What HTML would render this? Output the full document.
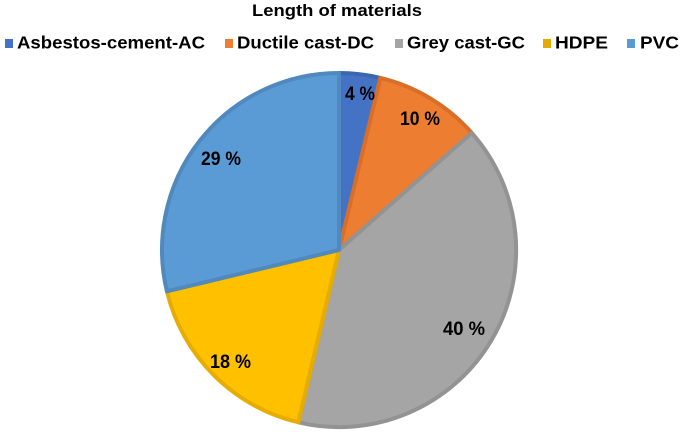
<!DOCTYPE html>
<html><head><meta charset="utf-8"><style>
html,body{margin:0;padding:0;background:#fff;}
svg{display:block;font-family:"Liberation Sans",Arial,sans-serif;font-weight:bold;}
</style></head><body>
<svg width="683" height="432" viewBox="0 0 683 432" xmlns="http://www.w3.org/2000/svg">
<rect width="683" height="432" fill="#fff"/>
<text x="337" y="16" font-size="17" text-anchor="middle" textLength="170" lengthAdjust="spacingAndGlyphs" fill="#000">Length of materials</text>
<g font-size="17.5" fill="#000">
<rect x="5" y="39" width="8" height="9" fill="#4472C4"/>
<text x="17" y="48.5" textLength="188" lengthAdjust="spacingAndGlyphs">Asbestos-cement-AC</text>
<rect x="225" y="39" width="8" height="9" fill="#ED7D31"/>
<text x="237" y="48.5" textLength="137" lengthAdjust="spacingAndGlyphs">Ductile cast-DC</text>
<rect x="395" y="39" width="8" height="9" fill="#A5A5A5"/>
<text x="407" y="48.5" textLength="118" lengthAdjust="spacingAndGlyphs">Grey cast-GC</text>
<rect x="543" y="39" width="8" height="9" fill="#E5AC00"/>
<text x="555" y="48.5" textLength="53" lengthAdjust="spacingAndGlyphs">HDPE</text>
<rect x="627" y="39" width="8" height="9" fill="#5B9BD5"/>
<text x="640" y="48.5" textLength="39" lengthAdjust="spacingAndGlyphs">PVC</text>
</g>
<g stroke-width="4" stroke-linejoin="round">
<path d="M339,250 L339,73 A177,177 0 0 1 380.3,77.9 Z" fill="#4472C4" stroke="#3C66B0"/>
<path d="M339,250 L380.3,77.9 A177,177 0 0 1 471.8,132.9 Z" fill="#ED7D31" stroke="#D86E28"/>
<path d="M339,250 L471.8,132.9 A177,177 0 0 1 298.3,422.3 Z" fill="#A5A5A5" stroke="#939393"/>
<path d="M339,250 L298.3,422.3 A177,177 0 0 1 166.9,291.3 Z" fill="#FFC000" stroke="#E6AD00"/>
<path d="M339,250 L166.9,291.3 A177,177 0 0 1 339,73 Z" fill="#5B9BD5" stroke="#5089BE"/>
</g>
<g font-size="19" fill="#000">
<text x="345" y="100" textLength="30" lengthAdjust="spacingAndGlyphs">4 %</text>
<text x="400" y="125" textLength="40" lengthAdjust="spacingAndGlyphs">10 %</text>
<text x="443" y="335" textLength="42" lengthAdjust="spacingAndGlyphs">40 %</text>
<text x="210" y="368" textLength="41" lengthAdjust="spacingAndGlyphs">18 %</text>
<text x="201" y="165" textLength="40" lengthAdjust="spacingAndGlyphs">29 %</text>
</g>
</svg>
</body></html>
